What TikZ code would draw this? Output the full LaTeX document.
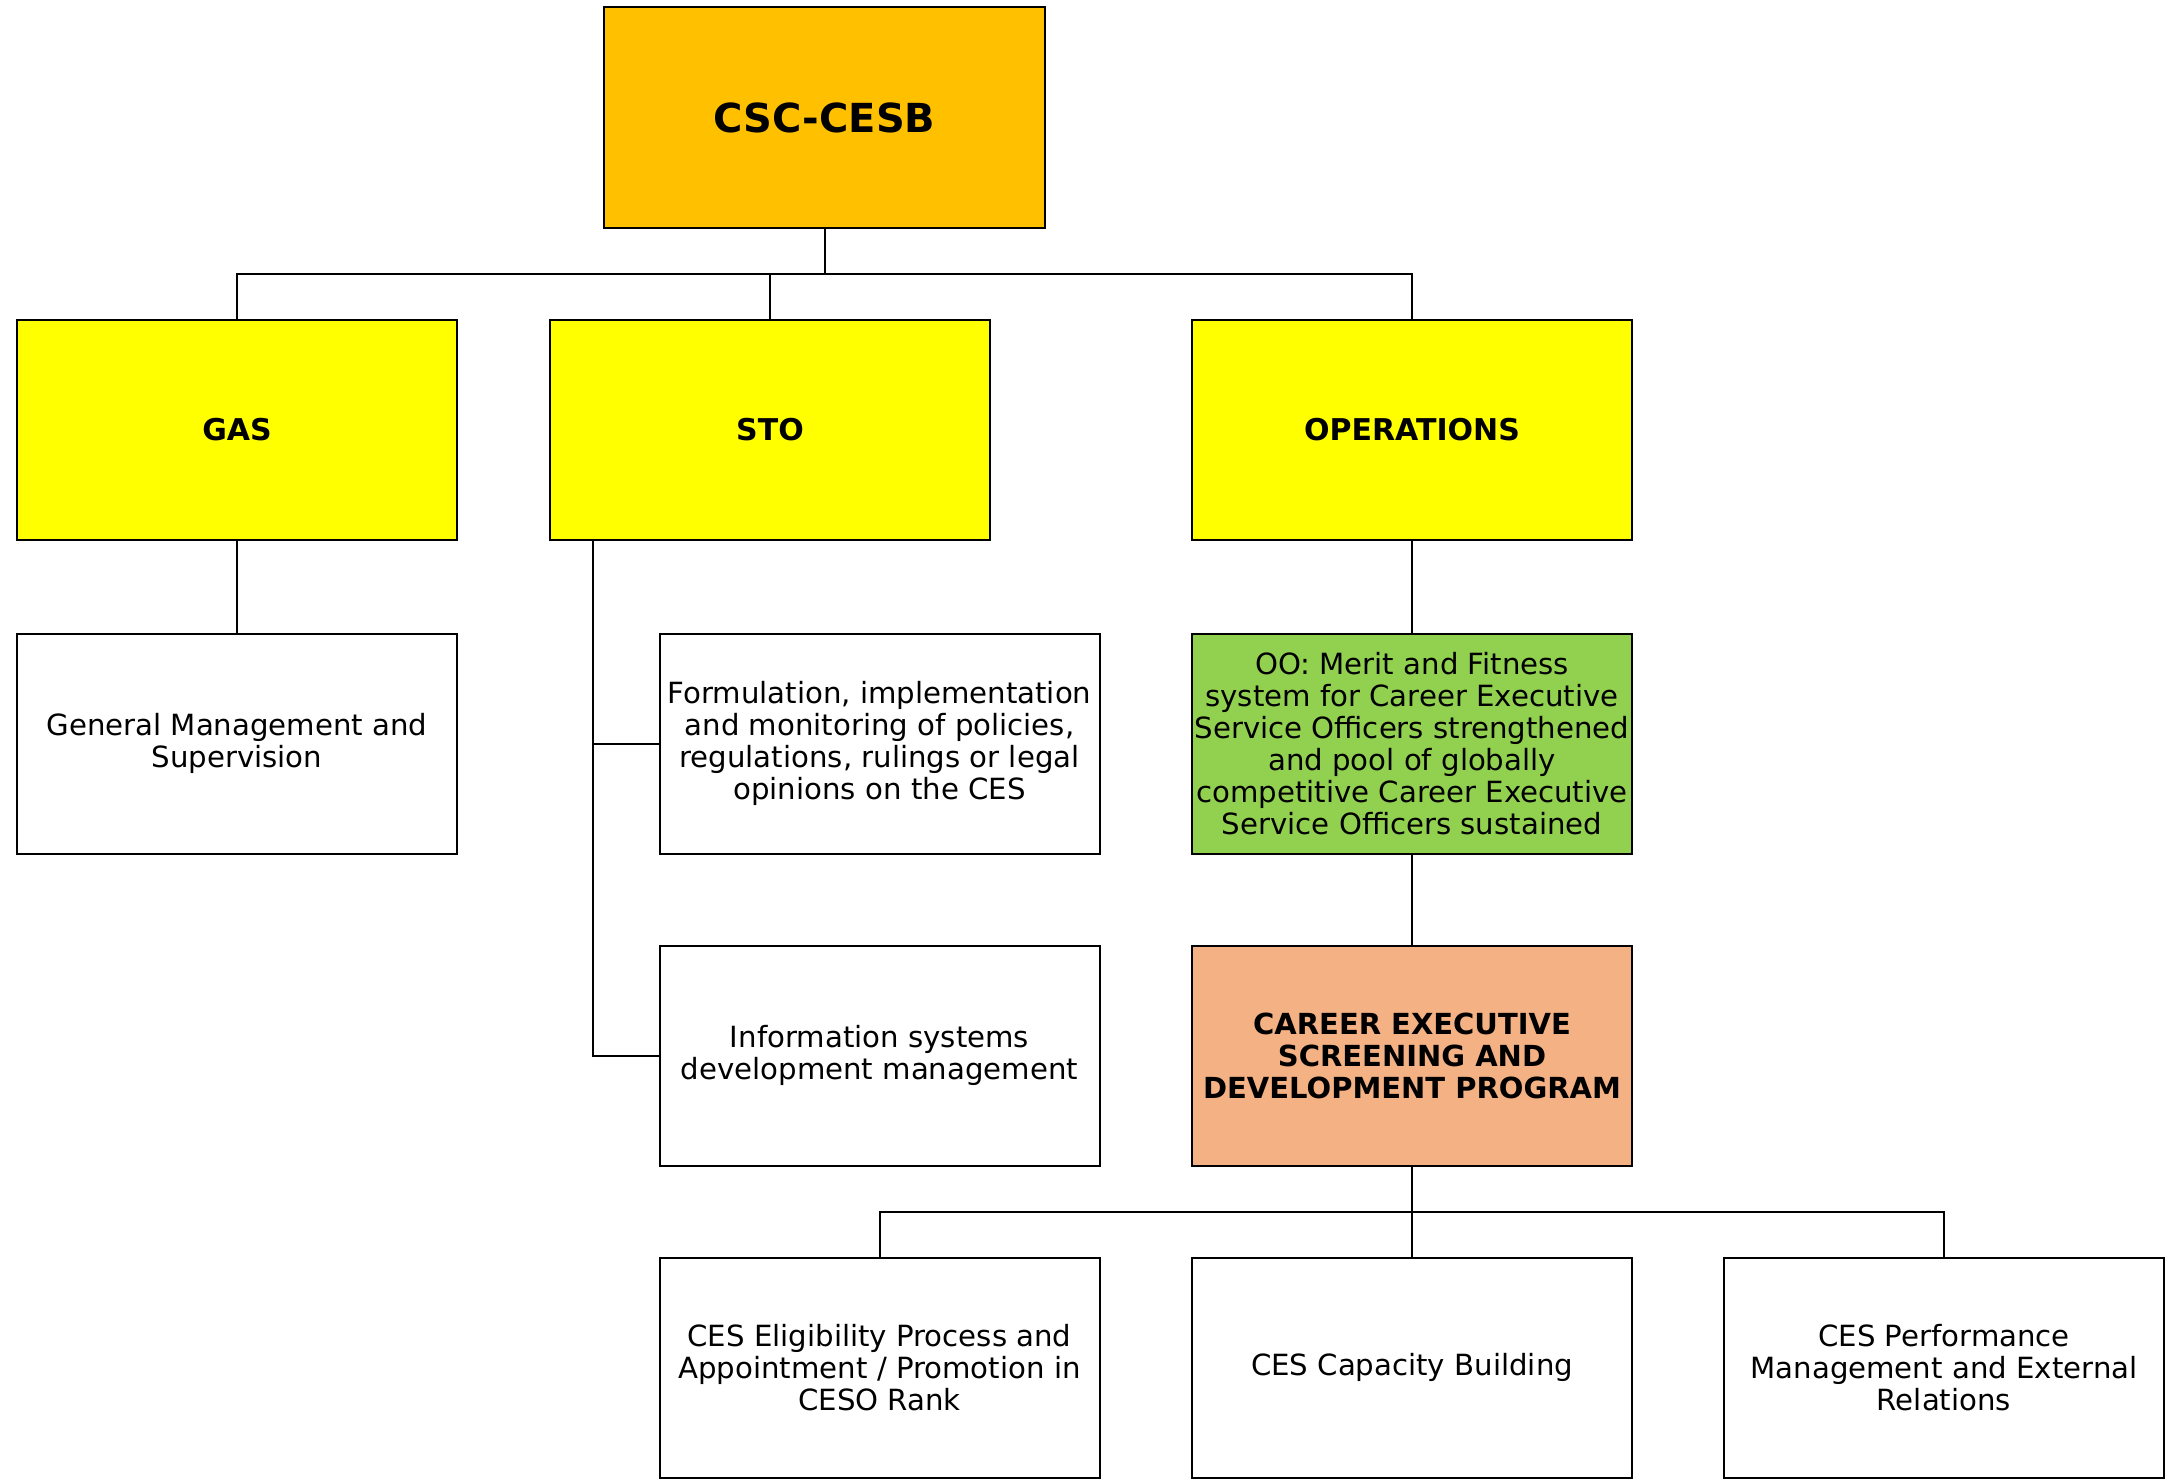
\documentclass[tikz,border=0pt]{standalone}
\usepackage{fontspec}
\setmainfont{DejaVu Sans}
\definecolor{cscorange}{HTML}{FFC000}
\definecolor{unityellow}{HTML}{FFFF00}
\definecolor{oogreen}{HTML}{92D050}
\definecolor{progorange}{HTML}{F4B183}
\begin{document}
\begin{tikzpicture}[x=0.5pt,y=0.5pt,
  box/.style={draw=black,line width=1pt,minimum width=220pt,minimum height=110pt,inner sep=0pt,align=center,font=\fontsize{14.6}{16}\selectfont},
  boldbox/.style={box,font=\fontsize{15}{16}\bfseries\selectfont},
  link/.style={draw=black,line width=1pt}]
\useasboundingbox (0,0) rectangle (2165,-1479);
% top
\node[box,minimum width=220.5pt,minimum height=110.5pt,fill=cscorange,font=\fontsize{20}{24}\bfseries\selectfont] (csc) at (824.5,-117.5) {CSC-CESB};
% row 1
\node[boldbox,fill=unityellow] (gas) at (237,-430) {GAS};
\node[boldbox,fill=unityellow] (sto) at (770,-430) {STO};
\node[boldbox,fill=unityellow] (ops) at (1412,-430) {OPERATIONS};
% row 2
\node[box] (gm) at (237,-743.5) {General Management and\\Supervision};
\node[box] (form) at (879.5,-743.5) {Formulation, implementation\\and monitoring of policies,\\regulations, rulings or legal\\opinions on the CES};
\node[box,fill=oogreen] (oo) at (1412,-743.5) {OO: Merit and Fitness\\system for Career Executive\\Service Officers strengthened\\and pool of globally\\competitive Career Executive\\Service Officers sustained};
% row 3
\node[box] (info) at (879.5,-1055.5) {Information systems\\development management};
\node[box,fill=progorange,font=\fontsize{14.5}{16}\bfseries\selectfont] (prog) at (1412,-1055.5) {CAREER EXECUTIVE\\SCREENING AND\\DEVELOPMENT PROGRAM};
% row 4
\node[box] (elig) at (879.5,-1367.5) {CES Eligibility Process and\\Appointment / Promotion in\\CESO Rank};
\node[box] (cap) at (1412,-1367.5) {CES Capacity Building};
\node[box] (perf) at (1944,-1367.5) {CES Performance\\Management and External\\Relations};
% connectors
\coordinate (busA) at (0,-274);
\coordinate (busB) at (0,-1212);
\draw[link] (csc.south) -- (csc.south |- busA);
\draw[link] (gas.north) |- (busA -| ops.north) -- (ops.north);
\draw[link] (sto.north) -- (sto.north |- busA);
\draw[link] (gas.south) -- (gm.north);
\draw[link] (ops.south) -- (oo.north);
\draw[link] (oo.south) -- (prog.north);
\coordinate (stoA) at ([xshift=22pt]sto.south west);
\draw[link] (stoA) |- (info.west);
\draw[link] (stoA |- form.west) -- (form.west);
\draw[link] (prog.south) -- (cap.north);
\draw[link] (elig.north) |- (busB -| perf.north) -- (perf.north);
\end{tikzpicture}
\end{document}
